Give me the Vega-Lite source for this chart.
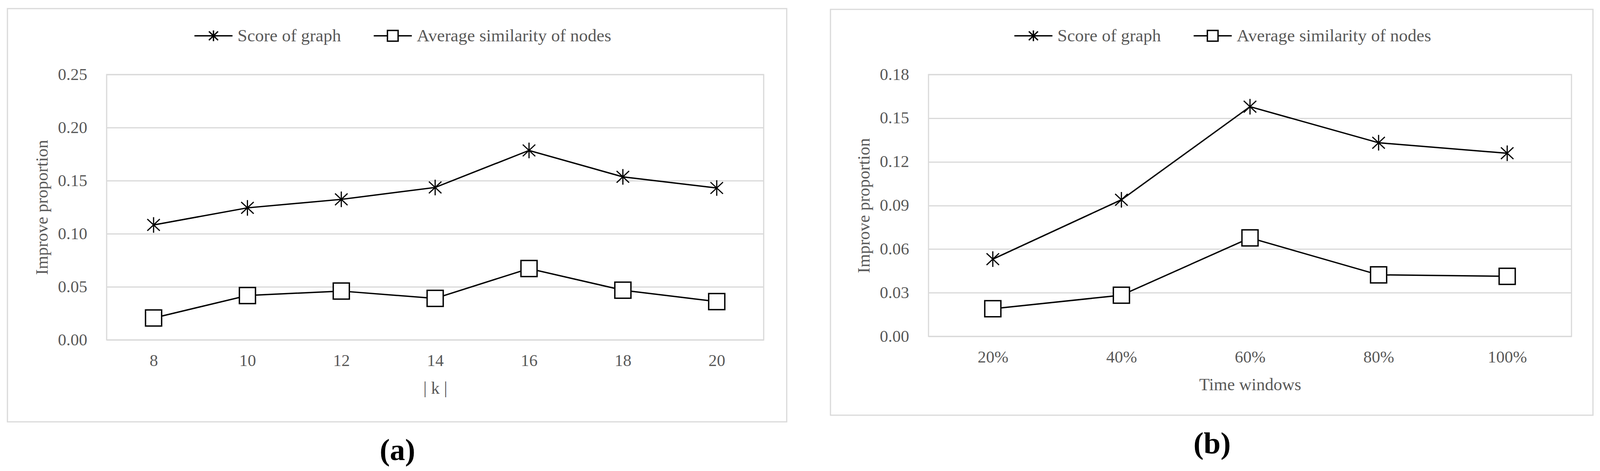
{
  "$schema": "https://vega.github.io/schema/vega-lite/v6.json",
  "background": "white",
  "padding": {"left": 17, "top": 20, "right": 0, "bottom": 0},
  "spacing": 106,
  "resolve": {"scale": {"shape": "independent", "color": "independent"}, "legend": {"shape": "independent", "color": "independent"}},
  "hconcat": [
    {
      "width": 1682,
      "height": 680,
      "title": {"text": "(a)", "orient": "bottom", "anchor": "middle", "frame": "bounds", "offset": 24, "fontSize": 78, "font": "Liberation Serif", "fontWeight": "bold", "color": "black"},
      "data": {"values": [
        {"k": "8", "series": "Score of graph", "value": 0.1083},
        {"k": "10", "series": "Score of graph", "value": 0.1244},
        {"k": "12", "series": "Score of graph", "value": 0.1324},
        {"k": "14", "series": "Score of graph", "value": 0.1436},
        {"k": "16", "series": "Score of graph", "value": 0.1785},
        {"k": "18", "series": "Score of graph", "value": 0.1536},
        {"k": "20", "series": "Score of graph", "value": 0.1431},
        {"k": "8", "series": "Average similarity of nodes", "value": 0.0206},
        {"k": "10", "series": "Average similarity of nodes", "value": 0.0418},
        {"k": "12", "series": "Average similarity of nodes", "value": 0.0460},
        {"k": "14", "series": "Average similarity of nodes", "value": 0.0391},
        {"k": "16", "series": "Average similarity of nodes", "value": 0.0672},
        {"k": "18", "series": "Average similarity of nodes", "value": 0.0468},
        {"k": "20", "series": "Average similarity of nodes", "value": 0.0361}
      ]},
      "encoding": {
        "x": {"field": "k", "type": "ordinal", "sort": ["8", "10", "12", "14", "16", "18", "20"], "scale": {"type": "point", "padding": 0.5}, "axis": {"title": "| k |"}},
        "y": {"field": "value", "type": "quantitative", "scale": {"domain": [0, 0.25], "nice": false, "zero": true}, "axis": {"values": [0, 0.05, 0.1, 0.15, 0.2, 0.25], "format": ".2f", "title": "Improve proportion"}}
      },
      "layer": [
        {"mark": {"type": "line", "color": "black", "strokeWidth": 3.5}, "encoding": {"detail": {"field": "series"}}},
        {"transform": [{"filter": "datum.series === 'Score of graph'"}], "mark": {"type": "point", "shape": "M0,-1L0,1M-0.8,-0.75L0.8,0.75M-0.8,0.75L0.8,-0.75", "size": 1600, "stroke": "black", "strokeWidth": 3, "filled": false, "opacity": 1}},
        {"transform": [{"filter": "datum.series === 'Average similarity of nodes'"}], "mark": {"type": "point", "shape": "square", "size": 1700, "fill": "white", "stroke": "black", "strokeWidth": 3.5, "filled": true, "opacity": 1, "fillOpacity": 1}},
        {"mark": {"type": "point", "opacity": 0},
         "encoding": {
           "shape": {"field": "series", "type": "nominal",
             "scale": {"domain": ["Score of graph", "Average similarity of nodes"], "range": ["M-1,0L1,0M0,-0.28L0,0.28M-0.24,-0.23L0.24,0.23M-0.24,0.23L0.24,-0.23", "M-1,0L-0.28,0M0.28,0L1,0M-0.28,-0.28L0.28,-0.28L0.28,0.28L-0.28,0.28Z"]},
             "legend": {"title": null, "orient": "none", "legendX": 223, "legendY": -150, "direction": "horizontal", "symbolSize": 9506, "symbolStrokeWidth": 3.5, "symbolStrokeColor": "black", "symbolFillColor": "white", "symbolOpacity": 1, "labelFont": "Liberation Serif", "labelFontSize": 45, "labelColor": "#595959", "labelOffset": 11, "columnPadding": 76, "padding": 0, "labelLimit": 0}},
           "color": {"field": "value", "type": "quantitative", "scale": {"range": ["rgba(255,255,255,0)", "rgba(255,255,255,0)"]},
             "legend": {"title": null, "orient": "none", "legendX": -254, "legendY": -169, "direction": "horizontal", "gradientLength": 1995, "gradientThickness": 1059, "gradientStrokeColor": "#d9d9d9", "gradientStrokeWidth": 3, "labelExpr": "''", "padding": 0}}
         }}
      ]
    },
    {
      "width": 1646,
      "height": 671,
      "title": {"text": "(b)", "orient": "bottom", "anchor": "middle", "frame": "bounds", "offset": 24, "fontSize": 78, "font": "Liberation Serif", "fontWeight": "bold", "color": "black"},
      "data": {"values": [
        {"t": "20%", "series": "Score of graph", "value": 0.0531},
        {"t": "40%", "series": "Score of graph", "value": 0.0939},
        {"t": "60%", "series": "Score of graph", "value": 0.1579},
        {"t": "80%", "series": "Score of graph", "value": 0.1331},
        {"t": "100%", "series": "Score of graph", "value": 0.1259},
        {"t": "20%", "series": "Average similarity of nodes", "value": 0.0190},
        {"t": "40%", "series": "Average similarity of nodes", "value": 0.0283},
        {"t": "60%", "series": "Average similarity of nodes", "value": 0.0677},
        {"t": "80%", "series": "Average similarity of nodes", "value": 0.0423},
        {"t": "100%", "series": "Average similarity of nodes", "value": 0.0413}
      ]},
      "encoding": {
        "x": {"field": "t", "type": "ordinal", "sort": ["20%", "40%", "60%", "80%", "100%"], "scale": {"type": "point", "padding": 0.5}, "axis": {"title": "Time windows"}},
        "y": {"field": "value", "type": "quantitative", "scale": {"domain": [0, 0.18], "nice": false, "zero": true}, "axis": {"values": [0, 0.03, 0.06, 0.09, 0.12, 0.15, 0.18], "format": ".2f", "title": "Improve proportion"}}
      },
      "layer": [
        {"mark": {"type": "line", "color": "black", "strokeWidth": 3.5}, "encoding": {"detail": {"field": "series"}}},
        {"transform": [{"filter": "datum.series === 'Score of graph'"}], "mark": {"type": "point", "shape": "M0,-1L0,1M-0.8,-0.75L0.8,0.75M-0.8,0.75L0.8,-0.75", "size": 1600, "stroke": "black", "strokeWidth": 3, "filled": false, "opacity": 1}},
        {"transform": [{"filter": "datum.series === 'Average similarity of nodes'"}], "mark": {"type": "point", "shape": "square", "size": 1700, "fill": "white", "stroke": "black", "strokeWidth": 3.5, "filled": true, "opacity": 1, "fillOpacity": 1}},
        {"mark": {"type": "point", "opacity": 0},
         "encoding": {
           "shape": {"field": "series", "type": "nominal",
             "scale": {"domain": ["Score of graph", "Average similarity of nodes"], "range": ["M-1,0L1,0M0,-0.28L0,0.28M-0.24,-0.23L0.24,0.23M-0.24,0.23L0.24,-0.23", "M-1,0L-0.28,0M0.28,0L1,0M-0.28,-0.28L0.28,-0.28L0.28,0.28L-0.28,0.28Z"]},
             "legend": {"title": null, "orient": "none", "legendX": 218, "legendY": -150, "direction": "horizontal", "symbolSize": 9506, "symbolStrokeWidth": 3.5, "symbolStrokeColor": "black", "symbolFillColor": "white", "symbolOpacity": 1, "labelFont": "Liberation Serif", "labelFontSize": 45, "labelColor": "#595959", "labelOffset": 11, "columnPadding": 76, "padding": 0, "labelLimit": 0}},
           "color": {"field": "value", "type": "quantitative", "scale": {"range": ["rgba(255,255,255,0)", "rgba(255,255,255,0)"]},
             "legend": {"title": null, "orient": "none", "legendX": -251, "legendY": -167, "direction": "horizontal", "gradientLength": 1952, "gradientThickness": 1040, "gradientStrokeColor": "#d9d9d9", "gradientStrokeWidth": 3, "labelExpr": "''", "padding": 0}}
         }}
      ]
    }
  ],
  "config": {
    "font": "Liberation Serif",
    "view": {"stroke": "#d9d9d9", "strokeWidth": 3},
    "axis": {"labelFont": "Liberation Serif", "labelFontSize": 43, "labelColor": "#595959", "titleFont": "Liberation Serif", "titleFontSize": 44, "titleColor": "#595959", "titleFontWeight": "normal", "ticks": false, "tickSize": 0, "domain": false, "gridColor": "#d9d9d9", "gridWidth": 3},
    "axisX": {"grid": false, "labelPadding": 32, "titlePadding": 27, "labelAngle": 0},
    "axisY": {"grid": true, "labelPadding": 50, "titlePadding": 17}
  }
}
